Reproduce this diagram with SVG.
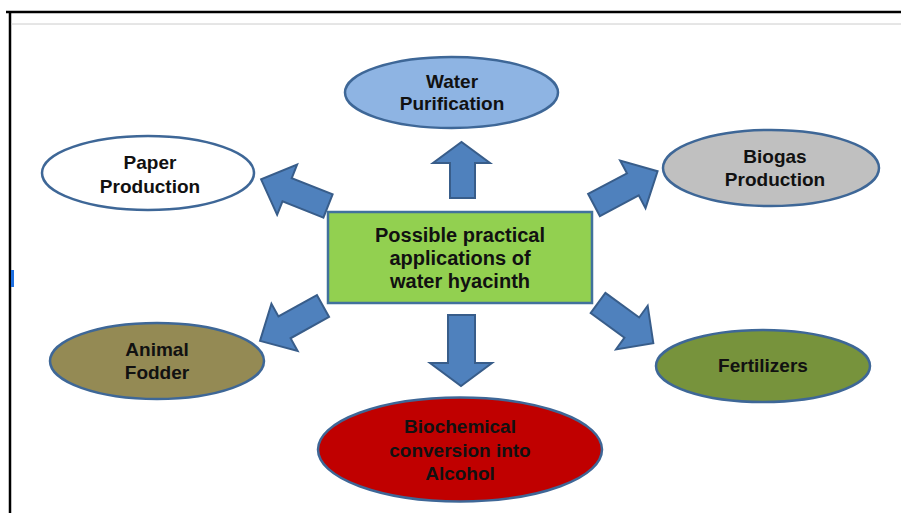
<svg xmlns="http://www.w3.org/2000/svg" width="901" height="513" viewBox="0 0 901 513">
<style>
.n{stroke:#3E6797;stroke-width:2.5}
.t{font-family:"Liberation Sans",Arial,sans-serif;font-weight:bold;font-size:19px;fill:#111;text-anchor:middle}
.c{font-size:20px}
.a{fill:#4F81BD;stroke:#385D8A;stroke-width:2;stroke-linejoin:miter}
</style>
<defs>
<polygon id="diag" points="0,-12.5 44,-12.5 44,-27 72,0 44,27 44,12.5 0,12.5"/>
</defs>
<rect width="901" height="513" fill="#fff"/>
<line x1="6" y1="12" x2="901" y2="12" stroke="#000" stroke-width="2.5"/>
<line x1="10" y1="11" x2="10" y2="513" stroke="#000" stroke-width="2.5"/>
<line x1="11" y1="24" x2="901" y2="24" stroke="#ccc" stroke-width="1"/>
<rect x="11" y="270" width="3" height="17" fill="#1E6FE0"/>
<g id="connectors">
<polygon class="a" points="450,198 450,163 433,163 461.5,142 490,163 475,163 475,198"/>
<polygon class="a" points="448,315 475,315 475,363 492,363 461,386 430,363 448,363"/>
<use href="#diag" class="a" transform="translate(328,206) rotate(201.7)"/>
<use href="#diag" class="a" transform="translate(594,205) rotate(-28)"/>
<use href="#diag" class="a" transform="translate(323,306) rotate(151)"/>
<use href="#diag" class="a" transform="translate(598,303) rotate(36) scale(0.95,1)"/>
</g>
<g id="center">
<rect x="328" y="212" width="264" height="91" fill="#92D050" stroke="#41719C" stroke-width="2.5"/>
<text class="t c" x="460" y="242">Possible practical</text>
<text class="t c" x="460" y="265">applications of</text>
<text class="t c" x="460" y="288">water hyacinth</text>
</g>
<g id="water">
<ellipse class="n" cx="451.5" cy="92.5" rx="106.5" ry="35.5" fill="#8EB4E3"/>
<text class="t" x="452" y="88">Water</text>
<text class="t" x="452" y="110">Purification</text>
</g>
<g id="paper">
<ellipse class="n" cx="148" cy="173" rx="106" ry="37" fill="#fff"/>
<text class="t" x="150" y="169">Paper</text>
<text class="t" x="150" y="193">Production</text>
</g>
<g id="biogas">
<ellipse class="n" cx="771" cy="168" rx="108" ry="38" fill="#C0C0C0"/>
<text class="t" x="775" y="163">Biogas</text>
<text class="t" x="775" y="186">Production</text>
</g>
<g id="fodder">
<ellipse class="n" cx="157" cy="361" rx="107" ry="38" fill="#948A54"/>
<text class="t" x="157" y="356">Animal</text>
<text class="t" x="157" y="379">Fodder</text>
</g>
<g id="fertilizers">
<ellipse class="n" cx="763" cy="366" rx="107" ry="36" fill="#77933C"/>
<text class="t" x="763" y="372">Fertilizers</text>
</g>
<g id="biochemical">
<ellipse class="n" cx="460" cy="449.5" rx="142" ry="52" fill="#C00000"/>
<text class="t" x="460" y="433">Biochemical</text>
<text class="t" x="460" y="457">conversion into</text>
<text class="t" x="460" y="480">Alcohol</text>
</g>
</svg>
